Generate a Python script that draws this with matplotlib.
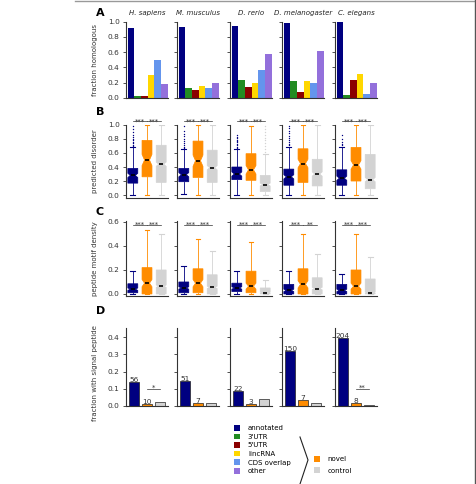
import matplotlib
matplotlib.use("Agg")
import matplotlib.pyplot as plt
from matplotlib.patches import Patch
from matplotlib.lines import Line2D

W, H = 477, 484

species = ["H. sapiens", "M. musculus", "D. rerio", "D. melanogaster", "C. elegans"]

# Panel A: fraction homologous per transcript class
classes = ["annotated", "3'UTR", "5'UTR", "lincRNA", "CDS overlap", "other"]
class_colors = ["#000080", "#228B22", "#8B0000", "#FFD700", "#6495ED", "#9370DB"]
homologous = [
    [0.92, 0.02, 0.03, 0.30, 0.50, 0.18],
    [0.93, 0.13, 0.11, 0.16, 0.13, 0.19],
    [0.94, 0.24, 0.15, 0.19, 0.37, 0.57],
    [0.98, 0.22, 0.08, 0.22, 0.20, 0.62],
    [0.99, 0.04, 0.24, 0.31, 0.05, 0.19],
]

groups = ["annotated", "novel", "control"]
group_colors = ["#000080", "#FF8C00", "#D3D3D3"]

# Panel B: predicted disorder, (whislo, q1, med, q3, whishi, cilo, cihi)
disorder = [
    [(0.0, 0.17, 0.28, 0.38, 0.68, 0.25, 0.31), (0.0, 0.26, 0.50, 0.78, 1.0, 0.42, 0.58), (0.0, 0.18, 0.44, 0.71, 1.0, 0.41, 0.47)],
    [(0.01, 0.19, 0.29, 0.38, 0.65, 0.26, 0.32), (0.0, 0.25, 0.49, 0.77, 1.0, 0.41, 0.57), (0.0, 0.18, 0.39, 0.64, 1.0, 0.36, 0.42)],
    [(0.0, 0.22, 0.30, 0.40, 0.65, 0.27, 0.33), (0.0, 0.21, 0.36, 0.59, 0.99, 0.30, 0.42), (0.0, 0.05, 0.15, 0.28, 0.58, 0.13, 0.17)],
    [(0.0, 0.14, 0.26, 0.37, 0.69, 0.23, 0.29), (0.0, 0.18, 0.45, 0.66, 1.0, 0.39, 0.51), (0.0, 0.13, 0.30, 0.51, 1.0, 0.27, 0.33)],
    [(0.0, 0.14, 0.24, 0.36, 0.69, 0.21, 0.27), (0.0, 0.20, 0.43, 0.68, 1.0, 0.37, 0.49), (0.0, 0.09, 0.22, 0.58, 1.0, 0.19, 0.25)],
]
disorder_fliers = [
    [[0.70, 0.72, 0.74, 0.76, 0.78, 0.80, 0.83, 0.86, 0.90, 0.94, 0.99], [], []],
    [[0.67, 0.69, 0.71, 0.74, 0.77, 0.80, 0.84, 0.87, 0.92, 0.99], [], []],
    [[0.67, 0.69, 0.71, 0.73, 0.75, 0.77, 0.79, 0.81, 0.83, 0.86], [], [0.62, 0.66, 0.70, 0.74, 0.78, 0.82, 0.86, 0.90, 0.94, 0.98]],
    [[0.71, 0.73, 0.75, 0.78, 0.81, 0.84, 0.88, 0.92, 0.96, 0.99], [], []],
    [[0.71, 0.73, 0.76, 0.80, 0.86], [], []],
]
disorder_sig = [["***", "***"], ["***", "***"], ["***", "***"], ["***", "***"], ["***", "***"]]

# Panel C: peptide motif density
motif = [
    [(0.0, 0.01, 0.04, 0.085, 0.19, 0.03, 0.05), (0.0, 0.0, 0.09, 0.22, 0.53, 0.06, 0.12), (0.0, 0.0, 0.065, 0.20, 0.50, 0.055, 0.075)],
    [(0.0, 0.01, 0.05, 0.10, 0.23, 0.04, 0.06), (0.0, 0.01, 0.09, 0.21, 0.46, 0.06, 0.12), (0.0, 0.0, 0.055, 0.16, 0.36, 0.045, 0.065)],
    [(0.0, 0.02, 0.05, 0.09, 0.19, 0.04, 0.06), (0.0, 0.01, 0.065, 0.19, 0.43, 0.04, 0.09), (0.0, 0.0, 0.01, 0.05, 0.12, 0.005, 0.015)],
    [(0.0, 0.0, 0.03, 0.08, 0.19, 0.02, 0.04), (0.0, 0.0, 0.08, 0.21, 0.50, 0.05, 0.11), (0.0, 0.0, 0.045, 0.135, 0.33, 0.035, 0.055)],
    [(0.0, 0.0, 0.03, 0.08, 0.17, 0.02, 0.04), (0.0, 0.0, 0.065, 0.20, 0.50, 0.04, 0.09), (0.0, 0.0, 0.01, 0.125, 0.31, 0.005, 0.015)],
]
motif_sig = [["***", "***"], ["***", "***"], ["***", "***"], ["***", "**"], ["***", "***"]]

# Panel D: fraction with signal peptide, with counts
signal = [
    [0.14, 0.012, 0.025],
    [0.147, 0.02, 0.018],
    [0.085, 0.013, 0.038],
    [0.32, 0.036, 0.02],
    [0.395, 0.02, 0.004],
]
signal_counts = [[56, 10], [51, 7], [22, 3], [150, 7], [204, 8]]
signal_sig = ["*", "", "", "", "**"]

FS = 5
plt.rcParams['font.family'] = ['DejaVu Sans']
plt.rcParams['font.size'] = FS
plt.rcParams['axes.linewidth'] = 0.8
plt.rcParams['axes.edgecolor'] = '#333333'
plt.rcParams['ytick.color'] = '#333333'

fig = plt.figure(figsize=(W / 100, H / 100), dpi=100)

col_left = [126, 177, 230, 282, 335]
col_w = 42


def make_ax(col, top, bottom):
    ax = fig.add_axes([col_left[col] / W, 1 - bottom / H, col_w / W, (bottom - top) / H])
    ax.spines['top'].set_visible(False)
    ax.spines['right'].set_visible(False)
    ax.set_xticks([])
    ax.tick_params(axis='y', length=2.5, width=0.6, pad=2, labelsize=5.3, labelcolor='#333333')
    if col > 0:
        ax.tick_params(axis='y', labelleft=False)
    return ax


def draw_boxes(ax, rows, fliers):
    stats = []
    for (lo, q1, med, q3, hi, cl, ch), fl in zip(rows, fliers):
        stats.append(dict(whislo=lo, q1=q1, med=med, q3=q3, whishi=hi,
                          cilo=cl, cihi=ch, fliers=fl))
    art = ax.bxp(stats, positions=[1, 2, 3], widths=0.7, shownotches=True,
                 patch_artist=True, showfliers=True)
    for i, c in enumerate(group_colors):
        art['boxes'][i].set_facecolor(c)
        art['boxes'][i].set_edgecolor(c)
        art['boxes'][i].set_linewidth(0.5)
        art['medians'][i].set_color('black')
        art['medians'][i].set_linewidth(1.2)
        art['medians'][i].set_xdata([1 + i - 0.15, 1 + i + 0.15])
        for w in art['whiskers'][2 * i:2 * i + 2]:
            w.set_color(c)
            w.set_linewidth(0.6)
        for cp in art['caps'][2 * i:2 * i + 2]:
            cp.set_color(c)
            cp.set_linewidth(0.8)
        fl = art['fliers'][i]
        fl.set_marker('.')
        fl.set_markersize(2)
        fl.set_markerfacecolor(c)
        fl.set_markeredgecolor(c)
        fl.set_markeredgewidth(0)
    ax.set_xticks([])
    ax.set_xlim(0.52, 3.48)


def draw_sig(ax, sigs, y, x_pairs, dy):
    for s, (a, b) in zip(sigs, x_pairs):
        if not s:
            continue
        ax.plot([a, b], [y, y], color='#333333', lw=0.5, clip_on=False)
        ax.text((a + b) / 2, y - dy, s, ha='center', va='bottom', fontsize=FS,
                color='#333333', clip_on=False)


for k in range(5):
    # A
    ax = make_ax(k, 21.5, 98)
    ax.bar(range(6), homologous[k], width=1.0, color=class_colors)
    ax.set_xlim(-0.75, 5.55)
    ax.set_ylim(0, 1.0)
    ax.set_yticks([0, 0.2, 0.4, 0.6, 0.8, 1.0])
    ax.set_title(species[k], fontsize=FS, style='italic', pad=5, color='#222222')
    if k == 0:
        ax.set_ylabel('fraction homologous', fontsize=FS, color='#333333')
        ax.yaxis.set_label_coords(-0.66, 0.5)

    # B
    ax = make_ax(k, 124.6, 198.2)
    draw_boxes(ax, disorder[k], disorder_fliers[k])
    ax.set_ylim(-0.045, 1.005)
    ax.set_yticks([0, 0.2, 0.4, 0.6, 0.8, 1.0])
    draw_sig(ax, disorder_sig[k], 1.05, [(1, 2), (2, 3)], 0.045)
    if k == 0:
        ax.set_ylabel('predicted disorder', fontsize=FS, color='#333333')
        ax.yaxis.set_label_coords(-0.66, 0.5)

    # C
    ax = make_ax(k, 220.8, 296)
    draw_boxes(ax, motif[k], [[], [], []])
    ax.set_ylim(-0.017, 0.61)
    ax.set_yticks([0, 0.2, 0.4, 0.6])
    draw_sig(ax, motif_sig[k], 0.575, [(1, 2), (2, 3)], 0.025)
    if k == 0:
        ax.set_ylabel('peptide motif density', fontsize=FS, color='#333333')
        ax.yaxis.set_label_coords(-0.66, 0.5)

    # D
    ax = make_ax(k, 328.4, 406)
    ax.bar(range(3), signal[k], width=0.8, color=group_colors, edgecolor='#222222', linewidth=0.5)
    for j, n in enumerate(signal_counts[k]):
        ax.text(j, signal[k][j] - 0.006, str(n), ha='center', va='bottom', fontsize=5.3, color='#333333')
    if signal_sig[k]:
        draw_sig(ax, [signal_sig[k]], 0.1, [(1, 2)], 0.012)
    ax.set_xlim(-0.6, 2.6)
    ax.set_ylim(0, 0.45)
    ax.set_yticks([0, 0.1, 0.2, 0.3, 0.4])
    if k == 0:
        ax.set_ylabel('fraction with signal peptide', fontsize=FS, color='#333333')
        ax.yaxis.set_label_coords(-0.66, 0.42)

# panel letters
for lab, py in zip("ABCD", [13, 112, 212, 311]):
    fig.text(96 / W, 1 - py / H, lab, fontsize=8, fontweight='bold', ha='left', va='center')

# legends
h1 = [Patch(facecolor=c, edgecolor='none') for c in class_colors]
fig.legend(h1, classes, loc='upper left', bbox_to_anchor=(234 / W, 1 - 425 / H),
           frameon=False, fontsize=FS, handlelength=0.9, handleheight=0.9,
           handletextpad=1.1, labelspacing=0.33, borderpad=0, borderaxespad=0)
h2 = [Patch(facecolor=c, edgecolor='none') for c in group_colors[1:]]
fig.legend(h2, groups[1:], loc='upper left', bbox_to_anchor=(314 / W, 1 - 456 / H),
           frameon=False, fontsize=FS, handlelength=0.9, handleheight=0.9,
           handletextpad=1.0, labelspacing=0.75, borderpad=0, borderaxespad=0)

# brace
fig.add_artist(Line2D([300 / W, 308 / W, 300 / W], [1 - 437 / H, 1 - 460 / H, 1 - 484 / H],
                      color='#222222', lw=0.8))
# frame lines
fig.add_artist(Line2D([75 / W, 1], [1 - 0.5 / H, 1 - 0.5 / H], color='#999999', lw=1))
fig.add_artist(Line2D([1 - 2 / W, 1 - 2 / W], [0, 1], color='#555555', lw=1))

fig.savefig('out.png', dpi=100)
